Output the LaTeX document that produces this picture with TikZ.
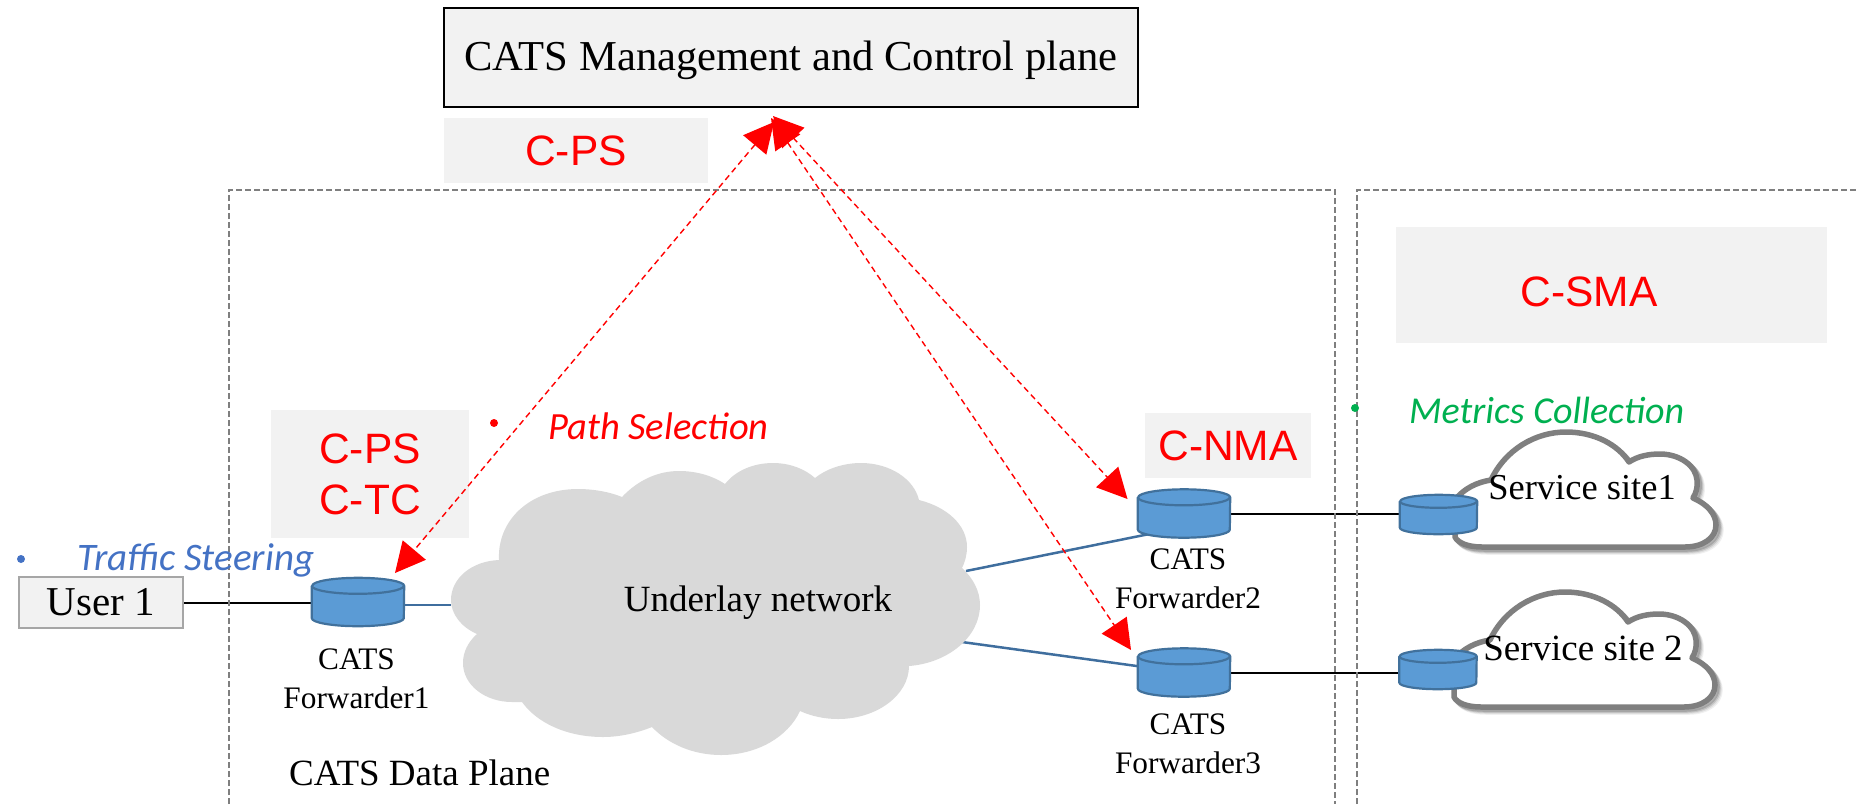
\documentclass[tikz,border=0pt]{standalone}
\usepackage{fontspec}
\setmainfont{Liberation Serif}
\newfontfamily\arialf{Liberation Sans}
\newfontfamily\carl{Carlito}
\usetikzlibrary{arrows.meta,calc,backgrounds}
\definecolor{boxgray}{HTML}{F2F2F2}
\definecolor{cloudgray}{HTML}{D9D9D9}
\definecolor{cylfill}{HTML}{5B9BD5}
\definecolor{cylline}{HTML}{41719C}
\definecolor{linkblue}{HTML}{3F6E9E}
\definecolor{framegray}{HTML}{7F7F7F}
\definecolor{steerblue}{HTML}{4472C4}
\definecolor{metricgreen}{HTML}{00B050}
\tikzset{
  x=1pt,y=-1pt,
  redlabel/.style={fill=boxgray,text=red,font=\arialf\fontsize{42.5}{51}\selectfont,align=center,inner sep=0pt},
  fwdlabel/.style={font=\fontsize{31.3}{39}\selectfont,align=center,inner sep=0pt},
  cylbox/.style={rectangle,inner sep=0pt,minimum width=#1},
  bigcyl/.style={cylbox=92pt,minimum height=48pt},
  smallcyl/.style={cylbox=77pt,minimum height=39pt},
  cylstyle/.style={draw=cylline,line width=2.2pt,line join=round},
  notefont/.style={font=\carl\itshape\fontsize{#1}{#1}\selectfont,inner sep=0pt},
  dotmark/.style={circle,fill=#1,minimum size=8pt,inner sep=0pt},
  blackline/.style={draw=black,line width=2pt},
  blueline/.style={draw=linkblue,line width=2.5pt},
  framing/.style={draw=framegray,line width=1.5pt,dash pattern=on 6pt off 3pt},
  redarrow/.style={draw=red,line width=1.4pt,dash pattern=on 6pt off 4pt,{Triangle[length=30pt,width=30pt,fill=red]}-{Triangle[length=30pt,width=30pt,fill=red]}},
  sitecloud/.style={fill=white,draw=#1,line width=5.5pt,line join=round},
}
\newcommand{\cylshape}[3]{%
  \path[cylstyle,fill=cylfill] ($(#1.north west)+(0,#3)$) -- ($(#1.south west)+(0,-#3)$)
     arc[start angle=180,end angle=360,x radius=#2pt,y radius=#3pt]
     -- ($(#1.north east)+(0,#3)$)
     arc[start angle=0,end angle=180,x radius=#2pt,y radius=#3pt] -- cycle;
  \path[cylstyle] ($(#1.north west)+(0,#3)$) arc[start angle=180,end angle=360,x radius=#2pt,y radius=#3pt];}
\newcommand{\sitepath}{(1491,480) .. controls (1505,450) and (1535,432) .. (1566,432) .. controls (1595,432) and (1618,445) .. (1629,462) .. controls (1638,456) and (1649,454) .. (1660,454) .. controls (1680,454) and (1696,466) .. (1697,480) .. controls (1698,487) and (1696,493) .. (1693,498) .. controls (1707,504) and (1716,514) .. (1716,525) .. controls (1716,538) and (1703,547) .. (1685,547) -- (1482,547) .. controls (1468,547) and (1458,543) .. (1455,537) -- (1455,500) .. controls (1464,488) and (1478,482) .. (1491,480) -- cycle}
\newcommand{\sitecloudshape}[1]{%
  \begin{scope}[shift={(#1)}]
    \foreach \o/\a in {5/0.06,4/0.08,3/0.12,2/0.15}{\draw[draw=black,line width=5.5pt,opacity=\a,shift={(\o,\o)}] \sitepath;}
    \path[sitecloud=framegray] \sitepath;
  \end{scope}}
\begin{document}
\begin{tikzpicture}
\useasboundingbox (0,0) rectangle (1857,804);
% frames
\draw[framing] (229,804) -- (229,190) -- (1335,190) -- (1335,804);
\draw[framing] (1357,804) -- (1357,190) -- (1857,190);
% gray boxes
\node[draw=black,line width=2.5pt,fill=boxgray,minimum width=694pt,minimum height=99pt,inner sep=0pt] (mc) at (791,57.5) {};
\node[font=\fontsize{42.6}{50}\selectfont,inner sep=0pt] (mct) at (791,60.5) {CATS Management and Control plane};
\node[redlabel,minimum width=264pt,minimum height=65pt] (cpstop) at (576,150.5) {C-PS};
\node[redlabel,minimum width=198pt,minimum height=128pt] (cpstc) at (370,474) {C-PS\\C-TC};
\node[redlabel,minimum width=166pt,minimum height=65pt] (cnma) at (1228,445.5) {C-NMA};
\node[redlabel,minimum width=431pt,minimum height=116pt] (csma) at (1611.5,285) {};
\node[text=red,font=\arialf\fontsize{42.5}{51}\selectfont,inner sep=0pt] (csmat) at (1589,292) {C-SMA};
% underlay cloud
\path[fill=cloudgray] (499,560) .. controls (497,520) and (530,489) .. (578,489) .. controls (594,489) and (610,492) .. (622,497)
 .. controls (638,480) and (658,471) .. (679,471) .. controls (697,471) and (713,476) .. (725,484)
 .. controls (735,471) and (753,463) .. (773,463) .. controls (790,463) and (805,469) .. (815,478)
 .. controls (826,469) and (843,463) .. (861,463) .. controls (890,463) and (914,479) .. (919,500)
 .. controls (947,507) and (967,525) .. (967,547) .. controls (967,555) and (965,562) .. (962,568)
 .. controls (973,578) and (980,591) .. (980,605) .. controls (980,637) and (948,663) .. (909,666)
 .. controls (909,695) and (877,719) .. (838,719) .. controls (824,719) and (811,716) .. (800,711)
 .. controls (788,737) and (757,755) .. (721,755) .. controls (693,755) and (668,744) .. (652,727)
 .. controls (637,733) and (620,737) .. (603,737) .. controls (567,737) and (537,723) .. (522,702)
 .. controls (517,702) and (515,702) .. (512,702) .. controls (485,702) and (463,685) .. (463,663) .. controls (463,652) and (468,642) .. (477,634)
 .. controls (461,627) and (451,614) .. (451,600) .. controls (451,578) and (472,561) .. (499,560) -- cycle;
\node[font=\fontsize{37}{44}\selectfont,inner sep=0pt] (under) at (758,603) {Underlay network};
\coordinate (ulL) at (451,605);
\coordinate (ulA) at (966,571);
\coordinate (ulB) at (962,642);
% service clouds
\sitecloudshape{0,0}
\sitecloudshape{-1,160}
\node[font=\fontsize{36.5}{44}\selectfont,inner sep=0pt] (site1) at (1582,488) {Service site1};
\node[font=\fontsize{37}{44}\selectfont,inner sep=0pt] (site2) at (1583,648) {Service site 2};
% user and forwarders
\node[draw=gray!70,fill=boxgray,line width=2pt,minimum width=164pt,minimum height=51pt,inner sep=0pt,font=\fontsize{41}{48}\selectfont] (user) at (101,602.5) {User 1};
\node[bigcyl] (f1) at (358,602) {};
\node[bigcyl] (f2) at (1184,513.5) {};
\node[bigcyl] (f3) at (1184,672.5) {};
\node[smallcyl] (s1) at (1438.5,514.5) {};
\node[smallcyl] (s2) at (1438,669.5) {};
\cylshape{f1}{46}{8}
\cylshape{f2}{46}{8}
\cylshape{f3}{46}{8}
\cylshape{s1}{38.5}{6.5}
\cylshape{s2}{38.5}{6.5}
\node[fwdlabel] (l1) at (356.5,679) {CATS\\Forwarder1};
\node[fwdlabel] (l2) at (1188,579) {CATS\\Forwarder2};
\node[fwdlabel] (l3) at (1188,744) {CATS\\Forwarder3};
% connectors
\begin{scope}[on background layer]
\draw[blackline] (user.east) -- (user.east -| f1.center);
\draw[blueline] ($(f1.center)+(0,3)$) -- (ulL);
\draw[blueline] (ulA) -- ($(f2.center)+(0,13.5)$);
\draw[blueline] (ulB) -- (f3.center);
\draw[blackline] (f2.center) -- (f2.center -| s1.center);
\draw[blackline] (f3.center) -- (f3.center -| s2.center);
\end{scope}
% notes
\node[dotmark=red] (d1) at (494,423) {};
\node[notefont=38.5,text=red,anchor=west] (t1) at (548,426) {Path Selection};
\node[dotmark=steerblue] (d2) at (21,559) {};
\node[notefont=39,text=steerblue,anchor=west] (t2) at (77,560) {Traffic Steering};
\node[dotmark=metricgreen] (d3) at (1355,408) {};
\node[notefont=38,text=metricgreen,anchor=west] (t3) at (1409,410) {Metrics Collection};
\node[font=\fontsize{37}{44}\selectfont,inner sep=0pt,anchor=west] (dp) at (289,773) {CATS Data Plane};
% red arrows
\coordinate (apexa) at (774,122);
\coordinate (apexb) at (773,116);
\coordinate (apexc) at (771,118);
\coordinate (tipa) at (395,573);
\coordinate (tipb) at (1127.5,499);
\coordinate (tipc) at (1131,650);
\draw[redarrow] (apexa) -- (tipa);
\draw[redarrow] (apexb) -- (tipb);
\draw[redarrow] (apexc) -- (tipc);
\end{tikzpicture}
\end{document}
